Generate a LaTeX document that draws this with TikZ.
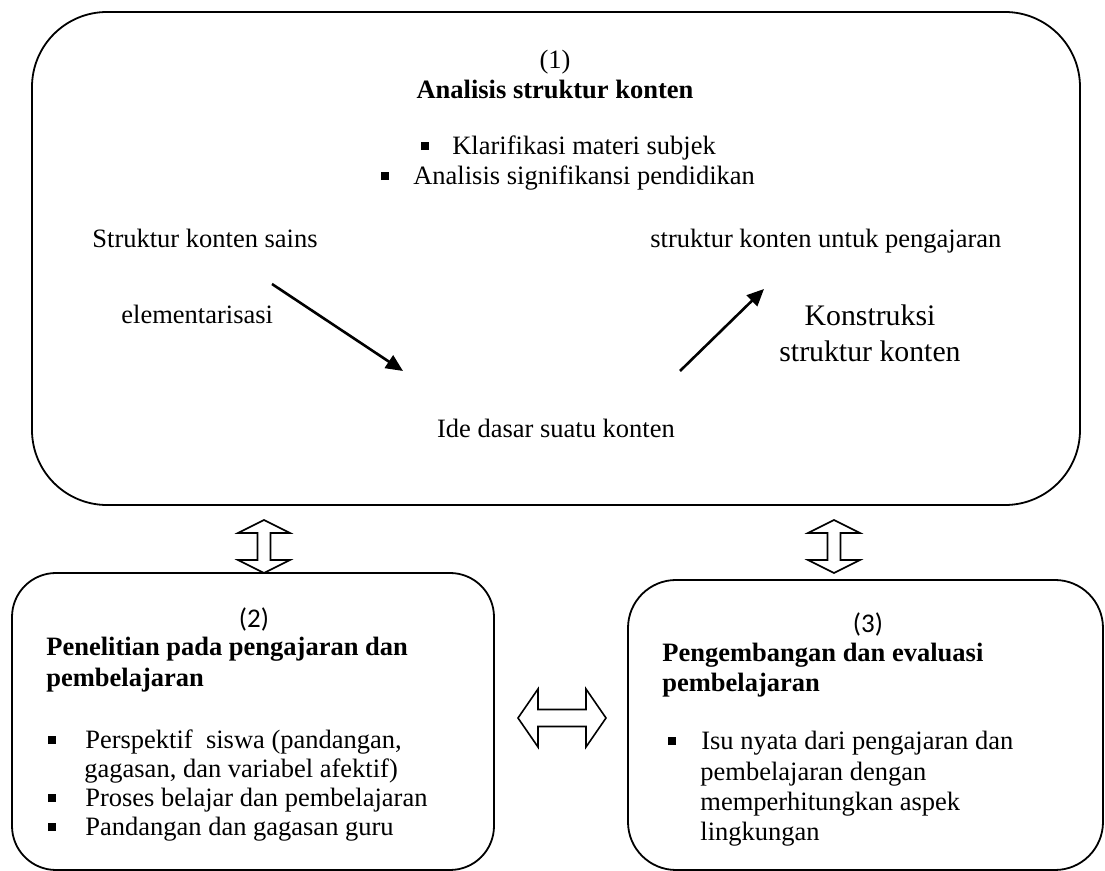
\documentclass[tikz,border=0pt]{standalone}
\usepackage{fontspec}
\setmainfont{Liberation Serif}
\newfontfamily\calfont{Carlito}
\usetikzlibrary{arrows.meta}

% small square bullet
\newcommand{\sqbul}{\rule[0.18em]{0.3em}{0.3em}}

\begin{document}
\begin{tikzpicture}[x=0.5pt,y=-0.5pt,
  txt/.style={inner sep=0pt, text height=0.72em, text depth=0.24em, font=\fontsize{13.25}{15.5}\selectfont},
  boldtxt/.style={txt, font=\fontsize{13.25}{15.5}\selectfont\bfseries},
  bigtxt/.style={inner sep=0pt, font=\fontsize{14.9}{18}\selectfont, align=center},
  numtxt/.style={inner sep=0pt, font=\calfont\fontsize{13.5}{15.5}\selectfont},
  roundbox/.style={draw, line width=0.9pt, rounded corners=#1, inner sep=0pt},
  flowarrow/.style={-{Triangle[length=8.5pt,width=7.5pt]}, line width=1.3pt},
  blockarrow/.style={draw, line width=0.8pt, fill=white, line join=miter}]

  \useasboundingbox (0,0) rectangle (1105,871);

  % Boxes
  \node[roundbox=37.5pt, minimum width=524pt, minimum height=246.5pt] (analisis) at (556,258.5) {};
  \node[roundbox=22pt, minimum width=241pt, minimum height=148.5pt] (penelitian) at (253,721.5) {};
  \node[roundbox=24pt, minimum width=237.5pt, minimum height=145pt] (pengembangan) at (865.5,725) {};

  % (1) Analisis struktur konten
  \node[txt] (no1) at (555,64) {(1)};
  \node[boldtxt] (judul1) at (555,94) {Analisis struktur konten};
  \node[txt, anchor=west] (klar) at (421,150) {\sqbul\hspace{11.5pt}Klarifikasi materi subjek};
  \node[txt, anchor=west] (signif) at (381,180) {\sqbul\hspace{12pt}Analisis signifikansi pendidikan};

  \node[txt, anchor=west] (sains) at (92,243) {Struktur konten sains};
  \node[txt, anchor=west] (pengajaran) at (650,243) {struktur konten untuk pengajaran};
  \node[txt, anchor=west] (elem) at (121,319) {elementarisasi};
  \node[bigtxt] (konstruksi) at (870,333) {Konstruksi\\struktur konten};
  \node[txt] (ide) at (556,433) {Ide dasar suatu konten};

  \coordinate (a1) at (272,284);
  \coordinate (a2) at (403,371);
  \coordinate (b1) at (680,371);
  \coordinate (b2) at (764,289);
  \draw[flowarrow] (a1) -- (a2);
  \draw[flowarrow] (b1) -- (b2);

  % (2) Penelitian
  \node[numtxt] (no2) at (254,620) {(2)};
  \node[boldtxt, anchor=west] (judul2a) at (46,651) {Penelitian pada pengajaran dan};
  \node[boldtxt, anchor=west] (judul2b) at (46,682) {pembelajaran};
  \node[txt, anchor=west] (p1a) at (48,744) {\sqbul\hspace{14.5pt}Perspektif\ \ siswa (pandangan,};
  \node[txt, anchor=west] (p1b) at (84,773) {gagasan, dan variabel afektif)};
  \node[txt, anchor=west] (p2) at (48,802) {\sqbul\hspace{14.5pt}Proses belajar dan pembelajaran};
  \node[txt, anchor=west] (p3) at (48,831) {\sqbul\hspace{14.5pt}Pandangan dan gagasan guru};

  % (3) Pengembangan
  \node[numtxt] (no3) at (868,624) {(3)};
  \node[boldtxt, anchor=west] (judul3a) at (662,657) {Pengembangan dan evaluasi};
  \node[boldtxt, anchor=west] (judul3b) at (662,687) {pembelajaran};
  \node[txt, anchor=west] (q1a) at (668,745) {\sqbul\hspace{12.5pt}Isu nyata dari pengajaran dan};
  \node[txt, anchor=west] (q1b) at (700,776) {pembelajaran dengan};
  \node[txt, anchor=west] (q1c) at (700,806) {memperhitungkan aspek};
  \node[txt, anchor=west] (q1d) at (700,836) {lingkungan};

  % Block arrows
  \foreach \cx in {264,834} {
    \draw[blockarrow, shift={(\cx,546.5)}]
      (0,-26.5) -- (26,-13.5) -- (6.5,-13.5) -- (6.5,13.5) -- (26,13.5) -- (0,26.5)
      -- (-26,13.5) -- (-6.5,13.5) -- (-6.5,-13.5) -- (-26,-13.5) -- cycle;
  }
  \draw[blockarrow, shift={(562,718)}]
    (-44,0) -- (-24,-29) -- (-24,-8.5) -- (24,-8.5) -- (24,-29) -- (44,0)
    -- (24,29) -- (24,8.5) -- (-24,8.5) -- (-24,29) -- cycle;
\end{tikzpicture}
\end{document}
